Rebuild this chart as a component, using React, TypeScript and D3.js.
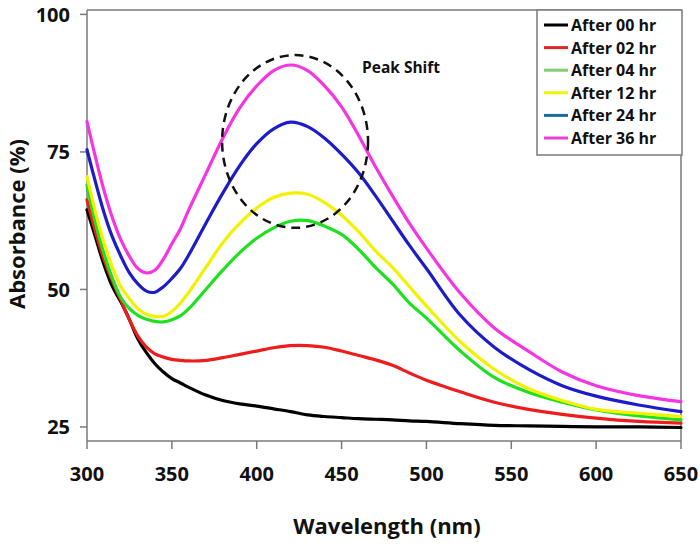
import React from "react";
import * as d3 from "d3";

const wavelengths = [300, 305, 310, 315, 320, 325, 330, 335, 340, 345, 350, 355, 360, 370, 380, 390, 400, 410, 420, 430, 440, 450, 460, 470, 480, 490, 500, 520, 540, 560, 580, 600, 625, 650];

const seriesNames = ["After 00 hr", "After 02 hr", "After 04 hr", "After 12 hr", "After 24 hr", "After 36 hr"];

const after00 = [64.5, 59.5, 54.5, 50.5, 47.7, 44.5, 41, 38.5, 36.5, 35, 33.8, 33, 32.2, 30.8, 29.8, 29.2, 28.8, 28.3, 27.8, 27.2, 26.9, 26.7, 26.5, 26.4, 26.3, 26.1, 26, 25.6, 25.3, 25.2, 25.1, 25, 25, 24.9];
const after02 = [66.3, 60.5, 55.5, 51.5, 48, 44.5, 41.5, 39.5, 38.3, 37.7, 37.3, 37.1, 37, 37.1, 37.6, 38.2, 38.8, 39.4, 39.8, 39.8, 39.5, 38.8, 38, 37.2, 36.2, 34.8, 33.5, 31.4, 29.5, 28.2, 27.3, 26.6, 26, 25.7];
const after04 = [69, 62, 56.5, 52, 48.5, 46.5, 45.3, 44.6, 44.2, 44.1, 44.5, 45.2, 46.5, 50, 53.5, 56.7, 59.3, 61.2, 62.4, 62.5, 61.5, 60, 57.3, 54, 51, 47.5, 44.8, 38.8, 34, 31.3, 29.5, 28.1, 27, 26.3];
const after12 = [70.5, 64, 58.5, 54, 50.5, 48.3, 46.5, 45.5, 45.1, 45.1, 46, 47.5, 49.5, 54, 58.5, 62, 64.8, 66.7, 67.5, 67.3, 65.8, 63.5, 60.5, 57, 54, 50.5, 47, 40.5, 35.5, 32, 29.8, 28.2, 27.5, 26.9];
const after24 = [75.4, 69.5, 64, 59.5, 56, 53, 51, 49.7, 49.5, 50.5, 52, 53.8, 56.3, 62, 67.5, 72.5, 76.5, 79.2, 80.4, 79.6, 77.5, 74.6, 71.2, 67, 62.5, 58, 53.8, 45.3, 39.5, 35.5, 32.5, 30.6, 29, 27.8];
const after36 = [80.5, 74, 68, 63, 59, 56, 53.8, 53, 53.5, 55.5, 58.3, 61, 64.5, 71, 77.5, 83, 87, 89.8, 90.8, 89.8, 87, 83.2, 78, 72.3, 67, 62, 57.5, 49.3, 43, 38.8, 35, 32.5, 30.7, 29.6];

const seriesValues = [after00, after02, after04, after12, after24, after36];

const xTicks = [300, 350, 400, 450, 500, 550, 600, 650];
const yTicks = [25, 50, 75, 100];

// annotation (data units): ellipse centre, radii
const peakEllipse = { cx: 422.6, cy: 76.9, rx: 43, ry: 15.7 };
const peakLabel = "Peak Shift";

const lineColors = ["#000000", "#ee1c1c", "#1ee01e", "#f2f200", "#1c1cc8", "#f535e2"];
const legendColors = ["#000000", "#e0242a", "#86cc74", "#f2f200", "#1a6c9c", "#e840d2"];

const FONT = "'Open Sans', 'DejaVu Sans', sans-serif";

export default function App() {
  const left = 87, right = 681, top = 10, bottom = 441;
  const x = d3.scaleLinear().domain([300, 650]).range([left, right]);
  const y = d3.scaleLinear().domain([22.45, 100.8]).range([bottom, top]);

  const line = d3
    .line<number>()
    .x((_, i) => x(wavelengths[i]))
    .y((v) => y(v))
    .curve(d3.curveCatmullRom.alpha(0.5));

  const axisColor = "#7a7a7a";

  const ex = x(peakEllipse.cx);
  const ey = y(peakEllipse.cy);
  const erx = x(peakEllipse.cx + peakEllipse.rx) - ex;
  const ery = ey - y(peakEllipse.cy + peakEllipse.ry);

  const legX = 537, legY = 10, legW = 145, legH = 145;

  return (
    <svg
      width={700}
      height={546}
      style={{ position: "absolute", left: 0, top: 0, background: "#fff" }}
      fontFamily={FONT}
    >
      <rect x={0} y={0} width={700} height={546} fill="#fff" />
      {/* frame */}
      <line x1={left} y1={top} x2={right} y2={top} stroke={axisColor} strokeWidth={1.5} />
      <line x1={right} y1={top} x2={right} y2={bottom} stroke={axisColor} strokeWidth={1.5} />
      <line x1={left} y1={top} x2={left} y2={bottom} stroke={axisColor} strokeWidth={1.5} />
      <line x1={left} y1={bottom} x2={right} y2={bottom} stroke={axisColor} strokeWidth={1.5} />

      {/* y ticks */}
      {yTicks.map((t) => (
        <g key={"y" + t}>
          <line x1={left - 7} x2={left} y1={y(t)} y2={y(t)} stroke={axisColor} strokeWidth={1.5} />
          <text
            x={70}
            y={t === 100 ? 14 : y(t)}
            textAnchor="end"
            dominantBaseline="central"
            fontSize={20}
            fontWeight={700}
            fill="#111"
          >
            {t}
          </text>
        </g>
      ))}

      {/* x ticks */}
      {xTicks.map((t) => (
        <g key={"x" + t}>
          <line x1={x(t)} x2={x(t)} y1={bottom} y2={bottom + 8} stroke={axisColor} strokeWidth={1.5} />
          <text
            x={x(t)}
            y={473}
            textAnchor="middle"
            dominantBaseline="central"
            fontSize={20}
            fontWeight={700}
            fill="#111"
          >
            {t}
          </text>
        </g>
      ))}

      {/* series */}
      {seriesValues.map((vals, i) => (
        <path
          key={seriesNames[i]}
          d={line(vals) || ""}
          fill="none"
          stroke={lineColors[i]}
          strokeWidth={3.2}
          strokeLinejoin="round"
          strokeLinecap="round"
        />
      ))}

      {/* peak shift annotation */}
      <ellipse
        cx={ex}
        cy={ey}
        rx={erx}
        ry={ery}
        fill="none"
        stroke="#111"
        strokeWidth={2.5}
        strokeDasharray="9 6"
      />
      <text x={362} y={67} dominantBaseline="central" fontSize={15.5} fontWeight={700} fill="#111">
        {peakLabel}
      </text>

      {/* axis titles */}
      <text
        x={387}
        y={525}
        textAnchor="middle"
        dominantBaseline="central"
        fontSize={22}
        fontWeight={700}
        fill="#111"
      >
        Wavelength (nm)
      </text>
      <text
        transform={`translate(16,224) rotate(-90)`}
        textAnchor="middle"
        dominantBaseline="central"
        fontSize={22}
        fontWeight={700}
        fill="#111"
      >
        Absorbance (%)
      </text>

      {/* legend */}
      <rect x={legX} y={legY} width={legW} height={legH} fill="#fff" stroke={axisColor} strokeWidth={1.5} />
      {seriesNames.map((name, i) => {
        const yy = 25 + i * 22.6;
        return (
          <g key={"leg" + name}>
            <line x1={544} x2={568} y1={yy} y2={yy} stroke={legendColors[i]} strokeWidth={3} />
            <text x={571} y={yy} dominantBaseline="central" fontSize={16} fontWeight={700} fill="#111">
              {name}
            </text>
          </g>
        );
      })}
    </svg>
  );
}
